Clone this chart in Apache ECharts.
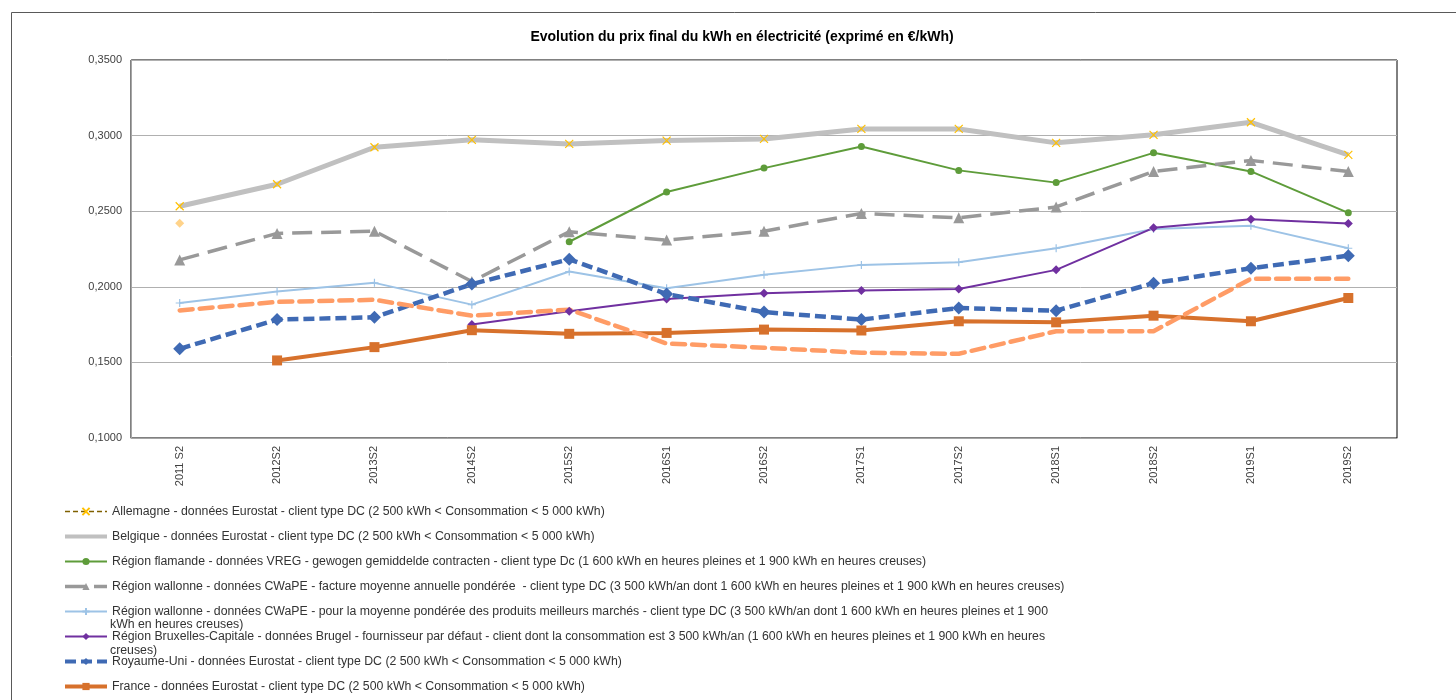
<!DOCTYPE html>
<html>
<head>
<meta charset="utf-8">
<script src="https://cdn.jsdelivr.net/npm/echarts@6/dist/echarts.min.js"></script>
<style>
html,body{margin:0;padding:0;background:#fff;}
#c{width:1456px;height:700px;}
</style>
</head>
<body>
<div id="c"></div>
<script>
const categories = ['2011 S2','2012S2','2013S2','2014S2','2015S2','2016S1','2016S2','2017S1','2017S2','2018S1','2018S2','2019S1','2019S2'];
const yTicks = [0.10, 0.15, 0.20, 0.25, 0.30, 0.35];

const allemagne        = [0.2533,0.2678,0.2923,0.2972,0.2945,0.2967,0.2978,0.3044,0.3044,0.2952,0.3005,0.3088,0.2873];
const belgique         = [0.2533,0.2678,0.2923,0.2972,0.2945,0.2967,0.2978,0.3044,0.3044,0.2952,0.3005,0.3088,0.2873];
const flamande         = [null,null,null,null,0.2298,0.2627,0.2785,0.2928,0.2770,0.2689,0.2886,0.2763,0.2489];
const wallonneFacture  = [0.2178,0.2353,0.2368,0.2035,0.2364,0.2309,0.2368,0.2485,0.2456,0.2528,0.2763,0.2836,0.2763];
const wallonneMeilleur = [0.1893,0.1969,0.2026,0.1882,0.2101,0.1991,0.2079,0.2145,0.2162,0.2255,0.2382,0.2403,0.2255];
const bruxelles        = [null,null,null,0.1750,0.1838,0.1919,0.1958,0.1976,0.1985,0.2112,0.2390,0.2447,0.2419];
const royaumeUni       = [0.1590,0.1783,0.1798,0.2018,0.2182,0.1952,0.1833,0.1783,0.1860,0.1842,0.2024,0.2123,0.2206];
const france           = [null,0.1513,0.1601,0.1713,0.1689,0.1695,0.1717,0.1711,0.1772,0.1765,0.1809,0.1772,0.1926];
const serieSaumon      = [0.1844,0.1900,0.1914,0.1809,0.1849,0.1625,0.1597,0.1564,0.1557,0.1706,0.1706,0.2053,0.2053];
const pointIsole       = [0.2421,null,null,null,null,null,null,null,null,null,null,null,null];

const names = {
  all: 'Allemagne - données Eurostat - client type DC (2 500 kWh < Consommation < 5 000 kWh)',
  bel: 'Belgique - données Eurostat - client type DC (2 500 kWh < Consommation < 5 000 kWh)',
  fla: 'Région flamande - données VREG - gewogen gemiddelde contracten - client type Dc (1 600 kWh en heures pleines et 1 900 kWh en heures creuses)',
  wf: 'Région wallonne - données CWaPE - facture moyenne annuelle pondérée  - client type DC (3 500 kWh/an dont 1 600 kWh en heures pleines et 1 900 kWh en heures creuses)',
  wm: 'Région wallonne - données CWaPE - pour la moyenne pondérée des produits meilleurs marchés - client type DC (3 500 kWh/an dont 1 600 kWh en heures pleines et 1 900 kWh en heures creuses)',
  bru: 'Région Bruxelles-Capitale - données Brugel - fournisseur par défaut - client dont la consommation est 3 500 kWh/an (1 600 kWh en heures pleines et 1 900 kWh en heures creuses)',
  uk: 'Royaume-Uni - données Eurostat - client type DC (2 500 kWh < Consommation < 5 000 kWh)',
  fr: 'France - données Eurostat - client type DC (2 500 kWh < Consommation < 5 000 kWh)'
};
const firstLine = {};
firstLine[names.wm] = 'Région wallonne - données CWaPE - pour la moyenne pondérée des produits meilleurs marchés - client type DC (3 500 kWh/an dont 1 600 kWh en heures pleines et 1 900';
firstLine[names.bru] = 'Région Bruxelles-Capitale - données Brugel - fournisseur par défaut - client dont la consommation est 3 500 kWh/an (1 600 kWh en heures pleines et 1 900 kWh en heures';

const FONT = 'Liberation Sans, Arial, sans-serif';
const LFS = 12.3;
const chart = echarts.init(document.getElementById('c'));

const xPath = 'path://M0,0L10,10M10,0L0,10';
const plusPath = 'path://M5,0L5,10M0,5L10,5';

chart.setOption({
  animation: false,
  backgroundColor: '#fff',
  title: {
    text: 'Evolution du prix final du kWh en électricité (exprimé en €/kWh)',
    left: 737, top: 25, textAlign: 'center',
    textStyle: {fontFamily: FONT, fontSize: 14, fontWeight: 'bold', color: '#000'}
  },
  grid: {left: 131, right: 59, top: 60, bottom: 262, show: true, borderColor: '#000', borderWidth: 1, backgroundColor: 'transparent'},
  xAxis: {
    type: 'category', data: categories, boundaryGap: true,
    axisLine: {lineStyle: {color: '#a6a6a6', width: 1}},
    axisTick: {show: false},
    axisLabel: {rotate: 90, fontFamily: FONT, fontSize: 11, color: '#404040', margin: 8, interval: 0}
  },
  yAxis: {
    type: 'value', min: yTicks[0], max: yTicks[yTicks.length-1], interval: 0.05,
    axisLine: {show: true, lineStyle: {color: '#a6a6a6', width: 1}},
    axisTick: {show: false},
    splitLine: {lineStyle: {color: '#b0b0b0', width: 1}},
    axisLabel: {fontFamily: FONT, fontSize: 11, color: '#404040', margin: 9,
      formatter: v => v.toFixed(4).replace('.', ',')}
  },
  legend: {
    orient: 'vertical', left: 63, top: 505, height: 400, padding: 0,
    itemWidth: 42, itemHeight: 9, itemGap: 12,
    textStyle: {fontFamily: FONT, fontSize: LFS, color: '#333', lineHeight: 13},
    formatter: n => firstLine[n] || n,
    data: [
      {name: names.all, lineStyle: {opacity: 1, color: '#7f6000', width: 1.5, type: [5, 3]}},
      {name: names.bel, itemStyle: {opacity: 0}, lineStyle: {width: 4}},
      names.fla,
      {name: names.wf, lineStyle: {width: 3.5}},
      names.wm, names.bru,
      {name: names.uk, lineStyle: {width: 4}},
      {name: names.fr, lineStyle: {width: 4}}
    ]
  },
  graphic: [
    {type: 'rect', shape: {x: 11.5, y: 12.5, width: 1500, height: 800}, style: {fill: 'none', stroke: '#595959', lineWidth: 1}, silent: true, z: -1},
    {type: 'text', left: 110, top: 619, style: {text: 'kWh en heures creuses)', font: LFS + 'px ' + FONT, fill: '#333'}},
    {type: 'text', left: 110, top: 645, style: {text: 'creuses)', font: LFS + 'px ' + FONT, fill: '#333'}}
  ],
  series: [
    {name: names.bel, type: 'line', data: belgique, symbol: 'none', connectNulls: false,
      lineStyle: {color: '#c0c0c0', width: 5}, itemStyle: {color: '#c0c0c0'}},
    {name: names.all, type: 'line', data: allemagne, symbol: xPath, symbolSize: 8,
      lineStyle: {color: '#7f6000', width: 1.5, opacity: 0},
      itemStyle: {color: 'none', borderColor: '#ffc000', borderWidth: 1.2}},
    {name: names.fla, type: 'line', data: flamande, symbol: 'circle', symbolSize: 7,
      lineStyle: {color: '#5e9c3a', width: 2}, itemStyle: {color: '#5e9c3a'}},
    {name: names.wf, type: 'line', data: wallonneFacture, symbol: 'triangle', symbolSize: 11,
      lineStyle: {color: '#999999', width: 3.5, type: [20, 9]}, itemStyle: {color: '#999999'}},
    {name: names.wm, type: 'line', data: wallonneMeilleur, symbol: plusPath, symbolSize: 8,
      lineStyle: {color: '#9dc3e6', width: 2}, itemStyle: {color: 'none', borderColor: '#9dc3e6', borderWidth: 1.2}},
    {name: names.bru, type: 'line', data: bruxelles, symbol: 'diamond', symbolSize: 9,
      lineStyle: {color: '#7030a0', width: 2}, itemStyle: {color: '#7030a0'}},
    {name: names.uk, type: 'line', data: royaumeUni, symbol: 'diamond', symbolSize: 13,
      lineStyle: {color: '#3f6ab4', width: 4.5, type: [11, 5]}, itemStyle: {color: '#3f6ab4'}},
    {name: names.fr, type: 'line', data: france, symbol: 'rect', symbolSize: 10,
      lineStyle: {color: '#d7712c', width: 4}, itemStyle: {color: '#d7712c'}},
    {name: 'Série 9', type: 'line', data: serieSaumon, symbol: 'none',
      lineStyle: {color: '#ff9c66', width: 4.5, type: [13, 7], cap: 'round'}, itemStyle: {color: '#ff9c66'}},
    {name: 'Série 10', type: 'line', data: pointIsole, symbol: 'diamond', symbolSize: 9,
      lineStyle: {color: '#ffd38a', width: 2}, itemStyle: {color: '#ffd38a'}}
  ]
});
</script>
</body>
</html>
